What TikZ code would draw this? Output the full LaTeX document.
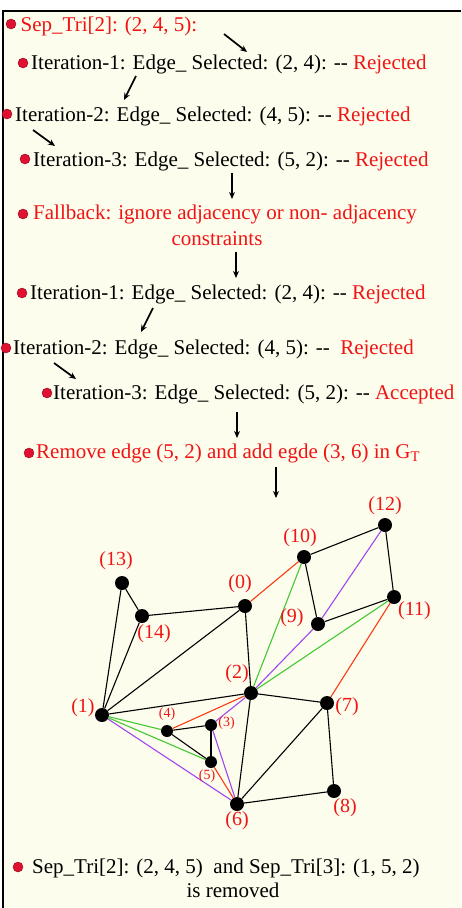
\documentclass[tikz,border=0pt]{standalone}
\usepackage{fontspec}
\setmainfont{Liberation Serif}
\usepackage{xcolor}
\usetikzlibrary{positioning,arrows.meta}
\definecolor{bgyel}{RGB}{252,253,237}
\definecolor{txtred}{RGB}{240,20,20}
\definecolor{dotred}{RGB}{226,16,48}
\definecolor{ered}{RGB}{250,60,20}
\definecolor{egreen}{RGB}{70,200,50}
\definecolor{epurp}{RGB}{160,70,240}
\tikzset{
  ln/.style={anchor=base west, inner sep=0pt, font=\fontsize{21}{25}\selectfont},
  rln/.style={ln, text=txtred},
  dot/.style={circle, fill=dotred, draw=dotred!60!black, line width=0.4pt, inner sep=0pt, minimum size=10pt},
  vtx/.style={circle, fill=black, inner sep=0pt, minimum size=14pt},
  svtx/.style={vtx, minimum size=12pt},
  lbl/.style={text=txtred, inner sep=0pt, font=\fontsize{20}{22}\selectfont},
  slbl/.style={lbl, font=\fontsize{14}{16}\selectfont},
  arr/.style={-{Stealth[length=7pt, width=6pt]}, line width=1.7pt},
  edg/.style={line width=1.1pt},
}
\begin{document}
\begin{tikzpicture}[x=1pt, y=-1pt]
\useasboundingbox (0,0) rectangle (461,908);
\fill[white] (0,0) rectangle (461,908);
\fill[bgyel] (3,11) rectangle (461,908);
\draw[line width=2pt] (3,908) -- (3,11) -- (461,11);

% steps
\node[rln] (t1) at (20.5,31) {Sep\_Tri[2]: (2, 4, 5):};
\node[ln] (t2) at (31,69) {Iteration-1: Edge\_ Selected: (2, 4): -{}- \textcolor{txtred}{Rejected}};
\node[ln] (t3) at (15,121) {Iteration-2: Edge\_ Selected: (4, 5): -{}- \textcolor{txtred}{Rejected}};
\node[ln] (t4) at (33,166) {Iteration-3: Edge\_ Selected: (5, 2): -{}- \textcolor{txtred}{Rejected}};
\node[rln] (t5) at (33,219) {Fallback: ignore adjacency or non- adjacency};
\node[rln, anchor=base] (t5b) at (217,245) {constraints};
\node[ln] (t6) at (30,299) {Iteration-1: Edge\_ Selected: (2, 4): -{}- \textcolor{txtred}{Rejected}};
\node[ln] (t7) at (13,354) {Iteration-2: Edge\_ Selected: (4, 5): -{}-~~\textcolor{txtred}{Rejected}};
\node[ln] (t8) at (53,399) {Iteration-3: Edge\_ Selected: (5, 2): -{}- \textcolor{txtred}{Accepted}};
\node[rln] (t9) at (36,458) {Remove edge (5, 2) and add egde (3, 6) in G\textsubscript{T}};
\node[ln] (t10) at (32,873) {Sep\_Tri[2]: (2, 4, 5)~~and Sep\_Tri[3]: (1, 5, 2)};
\node[ln, anchor=base] (t10b) at (233,897) {is removed};
\foreach \b/\x/\y in {b1/11/24, b2/23/63, b3/7/114, b4/25/159, b5/23/214, b6/22/293, b7/6/348, b8/47/393, b9/29/453, b10/18/867}
  \node[dot] (\b) at (\x,\y) {};
\foreach \i/\a/\b/\c/\d in {1/224/34/247/52, 2/136/76/124/100, 3/33/130/55/146, 4/232/173/232/199, 5/236/252/236/278, 6/153/308/141/332, 7/54/363/76/379, 8/237/412/237/438, 9/276/467/276/498}
  {\coordinate (s\i) at (\a,\b); \coordinate (e\i) at (\c,\d); \draw[arr] (s\i) -- (e\i);}

% graph G_T
\foreach \n/\x/\y in {0/245/606, 1/102/715, 2/251/693, 6/237/804, 7/327/703, 8/334/791, 9/318/624, 10/304/557, 11/394/597, 12/385/525, 13/122/583, 14/142/616}
  \node[vtx] (n\n) at (\x,\y) {};
\foreach \n/\x/\y in {3/211/725, 4/167/731, 5/211/762}
  \node[svtx] (n\n) at (\x,\y) {};
\foreach \a/\b in {13/14, 13/1, 14/1, 14/0, 0/1, 0/2, 10/12, 12/11, 10/9, 9/11, 1/2, 2/7, 2/6, 7/6, 7/8, 8/6, 4/3, 4/5, 3/5}
  \draw[edg] (n\a) -- (n\b);
\foreach \a/\b in {0/10, 11/7, 4/2, 5/6} \draw[edg, ered] (n\a) -- (n\b);
\foreach \a/\b in {10/2, 11/2, 1/4, 1/5} \draw[edg, egreen] (n\a) -- (n\b);
\foreach \a/\b in {12/9, 9/2, 2/3, 3/6, 1/6} \draw[edg, epurp] (n\a) -- (n\b);

\node[lbl, above=2.5pt of n12] (l12) {(12)};
\node[lbl, above=2.5pt of n10, xshift=-4pt] (l10) {(10)};
\node[lbl, above=5.5pt of n13, xshift=-6pt] (l13) {(13)};
\node[lbl, above=5.5pt of n0, xshift=-5pt] (l0) {(0)};
\node[lbl, below right=-1.5pt of n11] (l11) {(11)};
\node[lbl, below=1.5pt of n14, xshift=12pt] (l14) {(14)};
\node[lbl, left=7pt of n9, yshift=6pt] (l9) {(9)};
\node[lbl, above=2.5pt of n2, xshift=-14pt] (l2) {(2)};
\node[lbl, right=1pt of n7, yshift=-4pt] (l7) {(7)};
\node[lbl, left=0pt of n1, yshift=7pt] (l1) {(1)};
\node[lbl, below=0.5pt of n6] (l6) {(6)};
\node[lbl, below=0.5pt of n8, xshift=11pt] (l8) {(8)};
\node[slbl, above=4pt of n4] (l4) {(4)};
\node[slbl, right=1pt of n3, yshift=2pt] (l3) {(3)};
\node[slbl, below=1pt of n5, xshift=-4pt] (l5) {(5)};
\end{tikzpicture}
\end{document}
